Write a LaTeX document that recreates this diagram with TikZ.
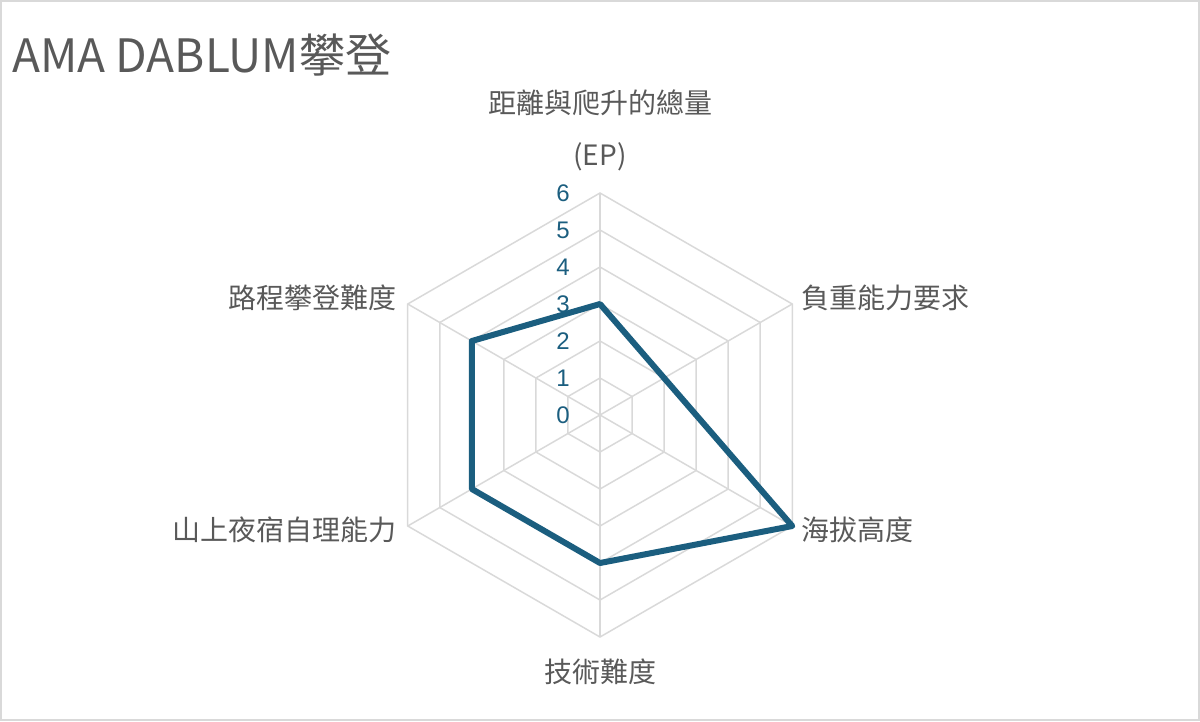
\documentclass[tikz,border=0pt]{standalone}
\usetikzlibrary{calc}
\usepackage{fontspec}
\setmainfont{Noto Sans CJK TC}
\newfontfamily\lat{Liberation Sans}
\definecolor{lbl}{HTML}{595959}
\definecolor{ser}{HTML}{1B5E7F}
\definecolor{grd}{HTML}{D9D9D9}
\begin{document}
\begin{tikzpicture}[x=1pt,y=-1pt,
  lab/.style={text=lbl,font=\fontsize{28}{32}\selectfont,inner sep=0pt},
  tick/.style={text=ser,font=\lat\fontsize{24}{28}\selectfont,inner sep=0pt}]
\useasboundingbox (0,0) rectangle (1200,721);
\draw[grd,line width=1.5] (1,1) rectangle (1199,720);
\coordinate (c) at (600,415);
\foreach \k in {1,...,6}{
  \draw[grd,line width=1.5] ($(c)+(-90:37*\k)$) \foreach \a in {-30,30,90,150,210}{ -- ($(c)+(\a:37*\k)$)} -- cycle;
}
\foreach \a in {-90,-30,30,90,150,210}{ \draw[grd,line width=1.5] (c) -- ($(c)+(\a:222)$); }
\foreach \k in {0,...,6}{ \node[tick] (t\k) at (563,415-37*\k) {\k}; }
\coordinate (p1) at ($(c)+(-90:111)$);
\coordinate (p2) at ($(c)+(-30:74)$);
\coordinate (p3) at ($(c)+(30:222)$);
\coordinate (p4) at ($(c)+(90:148)$);
\coordinate (p5) at ($(c)+(150:148)$);
\coordinate (p6) at ($(c)+(210:148)$);
\draw[ser,line width=6,line join=round] (p1)--(p2)--(p3)--(p4)--(p5)--(p6)--cycle;
\node[anchor=west,text=lbl,font=\fontsize{46}{52}\selectfont,inner sep=0pt] (title) at (12,55) {AMA DABLUM攀登};
\node[lab] (l1) at (600,103) {距離與爬升的總量};
\node[lab] (l1b) at (600,157) {(EP)};
\node[lab,anchor=west] (l2) at (801,298) {負重能力要求};
\node[lab,anchor=west] (l3) at (801,530) {海拔高度};
\node[lab] (l4) at (600,672) {技術難度};
\node[lab,anchor=east] (l5) at (397,530) {山上夜宿自理能力};
\node[lab,anchor=east] (l6) at (397,298) {路程攀登難度};
\end{tikzpicture}
\end{document}
